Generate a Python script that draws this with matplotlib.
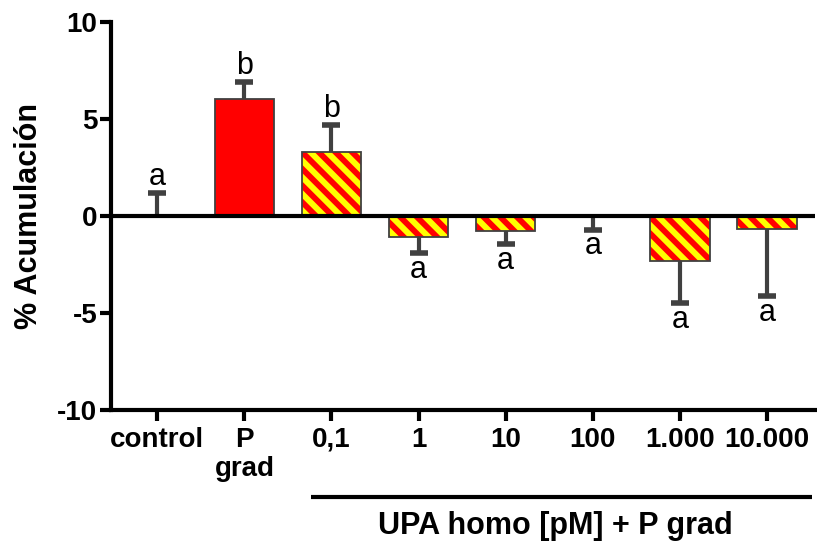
import matplotlib

matplotlib.use("Agg")
import matplotlib.pyplot as plt
import numpy as np

plt.rcParams["font.family"] = ["Liberation Sans", "DejaVu Sans"]
plt.rcParams["hatch.linewidth"] = 4.2

categories = ["control", "P\ngrad", "0,1", "1", "10", "100", "1.000", "10.000"]
values = [0.0, 6.03, 3.3, -1.1, -0.78, 0.0, -2.3, -0.68]
errors = [1.2, 0.9, 1.4, 0.8, 0.68, 0.7, 2.17, 3.44]
err_up = [True, True, True, False, False, False, False, False]
letters = ["a", "b", "b", "a", "a", "a", "a", "a"]
styles = ["none", "solid", "hatch", "hatch", "hatch", "none", "hatch", "hatch"]

DARK = "#404040"
W = 0.68

fig = plt.figure(figsize=(8.17, 5.49), dpi=100)
ax = fig.add_axes([0.136, 0.2532, 0.8615, 0.7068])

x = np.arange(len(categories))
for xi, v, st in zip(x, values, styles):
    if st == "solid":
        ax.bar(xi, v, width=W, color="#ff0000", edgecolor=DARK, linewidth=1.3, zorder=2)
    elif st == "hatch":
        # hatch colour follows edgecolor, so draw fill+stripes then the outline
        ax.bar(xi, v, width=W, color="#ffff00", edgecolor="#ff0000", linewidth=0,
               hatch="\\\\", zorder=2)
        ax.bar(xi, v, width=W, fill=False, edgecolor=DARK, linewidth=1.3, zorder=2.5)

# one-sided error bars
for xi, v, e, up in zip(x, values, errors, err_up):
    end = v + e if up else v - e
    ax.plot([xi, xi], [v, end], color=DARK, linewidth=3, zorder=3,
            solid_capstyle="butt")
    ax.plot([xi], [end], marker="_", markersize=13, markeredgewidth=4,
            color=DARK, zorder=3)

# significance letters
for xi, v, e, up, lt in zip(x, values, errors, err_up, letters):
    if up:
        ax.text(xi, v + e + 0.4, lt, ha="center", va="baseline", fontsize=22)
    else:
        ax.text(xi, v - e - 0.1, lt, ha="center", va="top", fontsize=22)

ax.axhline(0, color="black", linewidth=3, zorder=4)

ax.set_xlim(-0.53, 7.55)
ax.set_ylim(-10, 10)
ax.set_yticks([-10, -5, 0, 5, 10])
ax.set_yticklabels(["-10", "-5", "0", "5", "10"], fontsize=20, fontweight="bold")
ax.set_xticks(x)
ax.set_xticklabels(categories, fontsize=20, fontweight="bold", linespacing=1.15)

for side in ("top", "right"):
    ax.spines[side].set_visible(False)
for side in ("left", "bottom"):
    ax.spines[side].set_linewidth(3)
ax.tick_params(axis="both", width=3, length=8, color="black")
ax.tick_params(axis="x", pad=4)
ax.tick_params(axis="y", pad=2)

ax.set_ylabel("% Acumulación", fontsize=22, fontweight="bold")
ax.yaxis.set_label_coords(-0.095, 0.5)

# group bracket under the concentration series
trans = ax.get_xaxis_transform()
ax.plot([1.76, 7.52], [-0.224, -0.224], color="black", linewidth=3,
        transform=trans, clip_on=False, solid_capstyle="butt")
ax.text(4.57, -0.30, "UPA homo [pM] + P grad", transform=trans, ha="center",
        va="center", fontsize=22, fontweight="bold")

fig.savefig("out.png", dpi=100)
